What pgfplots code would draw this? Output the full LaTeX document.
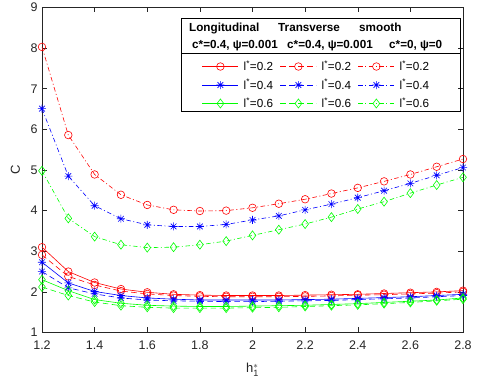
\documentclass[border=0pt]{standalone}
\usepackage{fontspec}
\setmainfont{Liberation Sans}
\usepackage{pgfplots}
\pgfplotsset{compat=1.18}
\definecolor{axgray}{gray}{0.15}
\definecolor{mred}{rgb}{1,0,0}
\definecolor{mblue}{rgb}{0,0,1}
\definecolor{mgreen}{rgb}{0,1,0}
\pgfdeclareplotmark{mstar}{%
 \pgfpathmoveto{\pgfqpoint{-\pgfplotmarksize}{0pt}}\pgfpathlineto{\pgfqpoint{\pgfplotmarksize}{0pt}}%
 \pgfpathmoveto{\pgfqpoint{0pt}{-\pgfplotmarksize}}\pgfpathlineto{\pgfqpoint{0pt}{\pgfplotmarksize}}%
 \pgfpathmoveto{\pgfqpoint{-.707\pgfplotmarksize}{-.707\pgfplotmarksize}}\pgfpathlineto{\pgfqpoint{.707\pgfplotmarksize}{.707\pgfplotmarksize}}%
 \pgfpathmoveto{\pgfqpoint{-.707\pgfplotmarksize}{.707\pgfplotmarksize}}\pgfpathlineto{\pgfqpoint{.707\pgfplotmarksize}{-.707\pgfplotmarksize}}%
 \pgfusepathqstroke}
\begin{document}
\begin{tikzpicture}
\useasboundingbox (-42pt,-53.5pt) rectangle (438pt,332.5pt);
\begin{axis}[
  at={(0pt,0pt)}, anchor=south west,
  scale only axis, width=421pt, height=325pt,
  xmin=1.2, xmax=2.8, ymin=1, ymax=9,
  xtick={1.2,1.4,1.6,1.8,2,2.2,2.4,2.6,2.8},
  ytick={1,2,3,4,5,6,7,8,9},
  /pgf/number format/assume math mode=true,
  tick label style={font=\fontsize{12.5}{14}\selectfont, text=axgray},
  xticklabel style={yshift=-5pt},
  yticklabel style={xshift=-1pt},
  major tick length=5pt,
  tick style={axgray, line width=0.5pt},
  axis line style={axgray, line width=0.6pt},
  xlabel={$\mathrm{h}_{\mathrm{1}}^{*}$},
  ylabel={C},
  label style={font=\fontsize{13}{15}\selectfont, text=axgray},
  xlabel style={at={(axis description cs:0.5,-0.115)}, anchor=center},
  ylabel style={at={(axis description cs:-0.063,0.5)}, anchor=center},
  legend columns=3,
  legend cell align=left,
  legend image code/.code={\draw[mark repeat=2,mark phase=2,#1] plot coordinates {(0pt,0pt) (18pt,0pt) (36pt,0pt)};},
  legend style={at={(axis description cs:0.651,0.7615)}, anchor=center, draw=none, fill=none,
    font=\fontsize{11.7}{13}\selectfont, row sep=5pt, inner sep=0pt,
    nodes={inner sep=1pt},
    /tikz/every odd column/.append style={column sep=4pt},
    /tikz/every even column/.append style={column sep=6pt}},
  every axis plot/.append style={line width=0.6pt},
]
% l*=0.2
\addplot[mred, mark=o, mark size=3.8pt, mark options={solid}] coordinates {
(1.2,3.10)(1.3,2.50)(1.4,2.23)(1.5,2.07)(1.6,1.99)(1.7,1.94)(1.8,1.92)(1.9,1.91)(2.0,1.91)(2.1,1.91)(2.2,1.92)(2.3,1.93)(2.4,1.94)(2.5,1.96)(2.6,1.98)(2.7,2.00)(2.8,2.03)};
\addlegendentry{l\textsuperscript{*}=0.2}
\addplot[mred, dash pattern=on 5.5pt off 3.5pt, mark=o, mark size=3.8pt, mark options={solid}] coordinates {
(1.2,2.91)(1.3,2.38)(1.4,2.17)(1.5,2.02)(1.6,1.95)(1.7,1.91)(1.8,1.89)(1.9,1.88)(2.0,1.88)(2.1,1.88)(2.2,1.89)(2.3,1.90)(2.4,1.92)(2.5,1.93)(2.6,1.95)(2.7,1.97)(2.8,2.00)};
\addlegendentry{l\textsuperscript{*}=0.2}
\addplot[mred, dash pattern=on 4.5pt off 2.5pt on 1pt off 2.5pt, mark=o, mark size=3.8pt, mark options={solid}] coordinates {
(1.2,8.03)(1.3,5.86)(1.4,4.89)(1.5,4.39)(1.6,4.14)(1.7,4.02)(1.8,3.99)(1.9,4.00)(2.0,4.07)(2.1,4.17)(2.2,4.28)(2.3,4.42)(2.4,4.56)(2.5,4.72)(2.6,4.89)(2.7,5.08)(2.8,5.27)};
\addlegendentry{l\textsuperscript{*}=0.2}
% l*=0.4
\addplot[mblue, mark=mstar, mark size=4pt, mark options={solid}] coordinates {
(1.2,2.73)(1.3,2.22)(1.4,2.01)(1.5,1.91)(1.6,1.85)(1.7,1.82)(1.8,1.80)(1.9,1.80)(2.0,1.80)(2.1,1.80)(2.2,1.81)(2.3,1.82)(2.4,1.84)(2.5,1.86)(2.6,1.88)(2.7,1.91)(2.8,1.94)};
\addlegendentry{l\textsuperscript{*}=0.4}
\addplot[mblue, dash pattern=on 5.5pt off 3.5pt, mark=mstar, mark size=4pt, mark options={solid}] coordinates {
(1.2,2.50)(1.3,2.10)(1.4,1.95)(1.5,1.85)(1.6,1.80)(1.7,1.78)(1.8,1.77)(1.9,1.76)(2.0,1.76)(2.1,1.77)(2.2,1.78)(2.3,1.79)(2.4,1.81)(2.5,1.83)(2.6,1.85)(2.7,1.88)(2.8,1.91)};
\addlegendentry{l\textsuperscript{*}=0.4}
\addplot[mblue, dash pattern=on 4.5pt off 2.5pt on 1pt off 2.5pt, mark=mstar, mark size=4pt, mark options={solid}] coordinates {
(1.2,6.51)(1.3,4.85)(1.4,4.12)(1.5,3.80)(1.6,3.65)(1.7,3.61)(1.8,3.61)(1.9,3.66)(2.0,3.77)(2.1,3.87)(2.2,4.02)(2.3,4.16)(2.4,4.32)(2.5,4.49)(2.6,4.67)(2.7,4.87)(2.8,5.06)};
\addlegendentry{l\textsuperscript{*}=0.4}
% l*=0.6
\addplot[mgreen, mark=diamond, mark size=4.5pt, mark options={solid}] coordinates {
(1.2,2.30)(1.3,2.03)(1.4,1.81)(1.5,1.72)(1.6,1.67)(1.7,1.65)(1.8,1.64)(1.9,1.64)(2.0,1.65)(2.1,1.66)(2.2,1.67)(2.3,1.69)(2.4,1.71)(2.5,1.74)(2.6,1.77)(2.7,1.80)(2.8,1.85)};
\addlegendentry{l\textsuperscript{*}=0.6}
\addplot[mgreen, dash pattern=on 5.5pt off 3.5pt, mark=diamond, mark size=4.5pt, mark options={solid}] coordinates {
(1.2,2.12)(1.3,1.91)(1.4,1.75)(1.5,1.66)(1.6,1.62)(1.7,1.60)(1.8,1.60)(1.9,1.60)(2.0,1.61)(2.1,1.62)(2.2,1.64)(2.3,1.66)(2.4,1.68)(2.5,1.71)(2.6,1.74)(2.7,1.78)(2.8,1.82)};
\addlegendentry{l\textsuperscript{*}=0.6}
\addplot[mgreen, dash pattern=on 4.5pt off 2.5pt on 1pt off 2.5pt, mark=diamond, mark size=4.5pt, mark options={solid}] coordinates {
(1.2,4.98)(1.3,3.81)(1.4,3.36)(1.5,3.16)(1.6,3.09)(1.7,3.10)(1.8,3.16)(1.9,3.25)(2.0,3.39)(2.1,3.53)(2.2,3.67)(2.3,3.84)(2.4,4.04)(2.5,4.22)(2.6,4.43)(2.7,4.63)(2.8,4.82)};
\addlegendentry{l\textsuperscript{*}=0.6}
\end{axis}
% legend frame and header
\draw[line width=0.6pt] (139pt,220.8pt) rectangle (418pt,314.2pt);
\draw[line width=0.6pt] (139pt,279.2pt) -- (418pt,279.2pt);
\begin{scope}[every node/.style={anchor=base west, inner sep=0pt, font=\bfseries\fontsize{11.7}{13}\selectfont}]
\node at (147pt,300.5pt) {Longitudinal};
\node at (236pt,300.5pt) {Transverse};
\node at (317pt,300.5pt) {smooth};
\node at (150pt,284pt) {c*=0.4, ψ=0.001};
\node at (245pt,284pt) {c*=0.4, ψ=0.001};
\node at (347pt,284pt) {c*=0, ψ=0};
\end{scope}
\end{tikzpicture}
\end{document}
